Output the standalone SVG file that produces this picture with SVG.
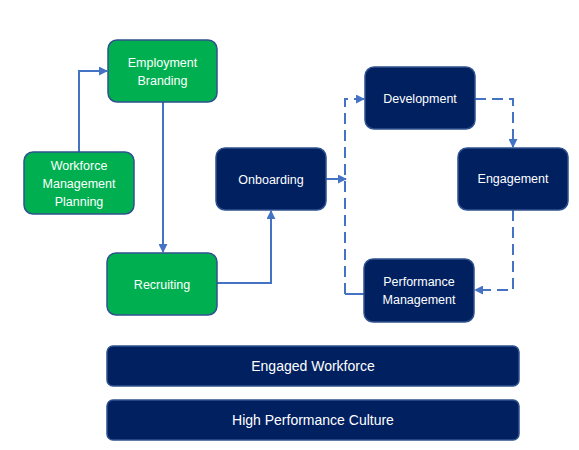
<svg xmlns="http://www.w3.org/2000/svg" width="579" height="450" viewBox="0 0 579 450">
<style>
.g{fill:#00B050;stroke:#2F528F;stroke-width:1.5}
.n{fill:#002060;stroke:#2F528F;stroke-width:1.5}
.t{font-family:"Liberation Sans",Arial,sans-serif;font-size:12.5px;fill:#fff;text-anchor:middle}
.tb{font-family:"Liberation Sans",Arial,sans-serif;font-size:14px;fill:#fff;text-anchor:middle}
.c{fill:none;stroke:#4472C4;stroke-width:2}
.d{stroke-dasharray:11 6}
</style>
<defs>
<marker id="a" viewBox="0 0 10 10" refX="9" refY="5" markerWidth="4.5" markerHeight="4.5" orient="auto" markerUnits="strokeWidth">
<path d="M0,0 L10,5 L0,10 z" fill="#4472C4"/>
</marker>
</defs>
<rect width="579" height="450" fill="#fff"/>
<g id="connectors">
<path class="c" d="M79,152 V71 H107" marker-end="url(#a)"/>
<path class="c" d="M163,102 V252" marker-end="url(#a)"/>
<path class="c" d="M217,283 H271 V211" marker-end="url(#a)"/>
<path class="c" d="M326,179 H346" marker-end="url(#a)"/>
<path class="c d" d="M345,294 V99 H364" marker-end="url(#a)"/>
<path class="c" d="M345,294 H364"/>
<path class="c d" d="M475,99 H513 V147" marker-end="url(#a)"/>
<path class="c d" d="M513,210 V290 H475" marker-end="url(#a)"/>
</g>
<g id="employment-branding"><rect class="g" x="108" y="40" width="109" height="62" rx="9"/><text class="t" x="162.5" y="67">Employment</text><text class="t" x="162.5" y="85">Branding</text></g>
<g id="workforce-management-planning"><rect class="g" x="24" y="152" width="110" height="62" rx="9"/><text class="t" x="79" y="170">Workforce</text><text class="t" x="79" y="188">Management</text><text class="t" x="79" y="206">Planning</text></g>
<g id="recruiting"><rect class="g" x="107" y="253" width="110" height="62" rx="9"/><text class="t" x="162" y="289">Recruiting</text></g>
<g id="onboarding"><rect class="n" x="216" y="148" width="110" height="62" rx="9"/><text class="t" x="271" y="184">Onboarding</text></g>
<g id="development"><rect class="n" x="365" y="67" width="110" height="62" rx="9"/><text class="t" x="420" y="103">Development</text></g>
<g id="engagement"><rect class="n" x="458" y="148" width="110" height="62" rx="9"/><text class="t" x="513" y="183">Engagement</text></g>
<g id="performance-management"><rect class="n" x="364" y="259" width="110" height="63" rx="9"/><text class="t" x="419" y="286">Performance</text><text class="t" x="419" y="304">Management</text></g>
<g id="engaged-workforce"><rect class="n" x="107" y="346" width="412" height="40" rx="6"/><text class="tb" x="313" y="371">Engaged Workforce</text></g>
<g id="high-performance-culture"><rect class="n" x="107" y="400" width="412" height="40" rx="6"/><text class="tb" x="313" y="425">High Performance Culture</text></g>
</svg>
